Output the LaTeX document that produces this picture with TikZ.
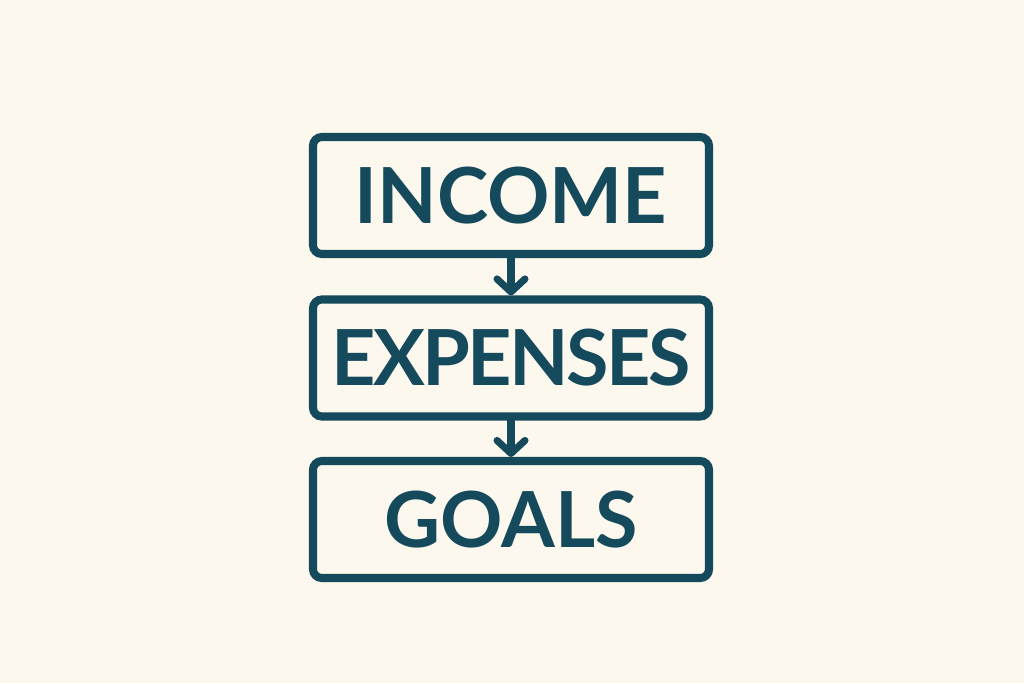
\documentclass[tikz,border=0pt]{standalone}
\usepackage{fontspec}
\setmainfont{Lato}
\usetikzlibrary{arrows.meta}
\definecolor{teal}{RGB}{20,74,92}
\definecolor{cream}{RGB}{252,248,238}

\begin{document}
\begin{tikzpicture}[
  stage/.style={draw=teal, line width=2.3pt, rounded corners=2.5pt,
    inner sep=0pt, minimum width=3.96cm, minimum height=1.17cm, text=teal,
    font=\fontsize{22}{26}\selectfont\bfseries},
  flow/.style={draw=teal, line width=2pt, line cap=round,
    -{Straight Barb[length=1.3mm, width=2.8mm, line cap=round, line join=round]}}]
\fill[cream] (0,0) rectangle (10.24,6.83);
\useasboundingbox (0,0) rectangle (10.24,6.83);
\node[stage] (income)   at (5.11,4.875) {INCOME};
\node[stage] (expenses) at (5.11,3.25)  {\addfontfeature{LetterSpace=-3.5}EXPENSES};
\node[stage] (goals)    at (5.11,1.635) {GOALS};
\draw[flow] (income.south) -- (expenses.north);
\draw[flow] (expenses.south) -- (goals.north);
\end{tikzpicture}
\end{document}
